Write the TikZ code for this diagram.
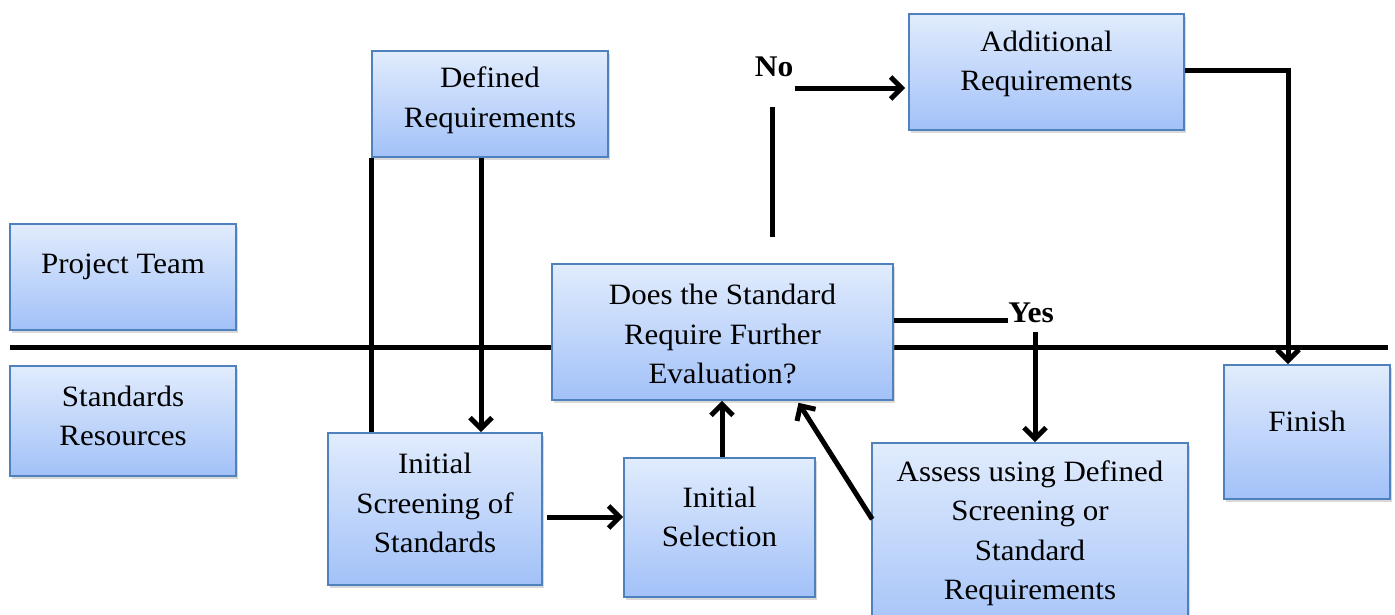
\documentclass[tikz,border=0pt]{standalone}
\usepackage{fontspec}
\setmainfont{Liberation Serif}[FakeStretch=1.05]
\usetikzlibrary{arrows.meta,shadows,calc}

\definecolor{boxtop}{HTML}{E1ECFD}
\definecolor{boxbot}{HTML}{A2C1F8}
\definecolor{boxline}{HTML}{4F81BD}

\tikzset{
  box/.style={rectangle, draw=boxline, line width=1.6pt,
    top color=boxtop, bottom color=boxbot, inner sep=0pt,
    drop shadow={shadow xshift=2pt, shadow yshift=-3pt, opacity=0.3, fill=black!50}},
  boxtext/.style={align=center, inner sep=0pt, font=\fontsize{29.5}{39.5}\selectfont},
  answer/.style={inner sep=0pt, font=\fontsize{30}{34}\selectfont\bfseries},
  flow/.style={line width=5pt},
  flowarrow/.style={flow, -{Straight Barb[length=11pt,width=22pt]}},
}

\begin{document}
\begin{tikzpicture}[x=1pt, y=-1pt]
  \useasboundingbox (0,0) rectangle (1395,614);
  \clip (0,0) rectangle (1395,614);

  % swimlane divider between the two roles
  \coordinate (laneL) at (10,347);
  \coordinate (laneR) at (1388,347);
  \draw[flow] (laneL) -- (laneR);

  % boxes
  \node[box, minimum width=226pt, minimum height=106pt] (team) at (123,277) {};
  \node[boxtext] (teamT) at (123,267) {Project Team};

  \node[box, minimum width=226pt, minimum height=110pt] (res) at (123,421) {};
  \node[boxtext] (resT) at (123,416) {Standards\\Resources};

  \node[box, minimum width=236pt, minimum height=106pt] (defreq) at (490,104) {};
  \node[boxtext] (defreqT) at (490,100) {Defined\\Requirements};

  \node[box, minimum width=275pt, minimum height=116pt] (addreq) at (1046.5,72) {};
  \node[boxtext] (addreqT) at (1046.5,64) {Additional\\Requirements};

  \node[box, minimum width=341pt, minimum height=136pt] (dec) at (722.5,332) {};
  \node[boxtext] (decT) at (722.5,334) {Does the Standard\\Require Further\\Evaluation?};

  \node[box, minimum width=214pt, minimum height=152pt] (scr) at (435,509) {};
  \node[boxtext] (scrT) at (435,503) {Initial\\Screening of\\Standards};

  \node[box, minimum width=191pt, minimum height=139pt] (sel) at (719.5,527.5) {};
  \node[boxtext] (selT) at (719.5,517) {Initial\\Selection};

  \node[box, minimum width=316pt, minimum height=200pt] (ass) at (1030,543) {};
  \node[boxtext] (assT) at (1030,533) {Assess using Defined\\Screening or\\Standard\\Requirements};

  \node[box, minimum width=166pt, minimum height=134pt] (fin) at (1307,432) {};
  \node[boxtext] (finT) at (1307,421) {Finish};

  % decision labels
  \node[answer] (no) at (774,67) {No};
  \node[answer] (yes) at (1031,313) {Yes};
  \coordinate (nofoot) at (772,237);

  % connectors
  \draw[flow] (defreq.south west) -- (scr.north -| defreq.south west);
  \draw[flowarrow] ([xshift=-9pt]defreq.south) -- ([xshift=-9pt]defreq.south |- scr.north);
  \draw[flowarrow] ([xshift=4pt,yshift=-8pt]scr.east) -- ([yshift=-8pt]scr.east -| sel.west);
  \draw[flowarrow] ([xshift=2.5pt]sel.north) -- ([xshift=2.5pt]sel.north |- dec.south);
  \draw[flowarrow] ($(ass.north west)+(1,77)$) -- ($(dec.south)+(76,2)$);

  \draw[flow] ([yshift=12pt]dec.east) -- ([yshift=12pt]dec.east -| yes.west);
  \draw[flowarrow] ([xshift=4pt,yshift=-9pt]yes.south) -- ([xshift=4pt]yes.south |- ass.north);

  \draw[flow] (nofoot) -- (nofoot |- 0,107);
  \draw[flowarrow] ([yshift=-16pt]addreq.west -| no.east) ++(2,0) -- ([xshift=-3pt,yshift=-16pt]addreq.west);

  \draw[flowarrow] ([yshift=2pt]addreq.east) -| ([xshift=-19pt]fin.north);
\end{tikzpicture}
\end{document}
